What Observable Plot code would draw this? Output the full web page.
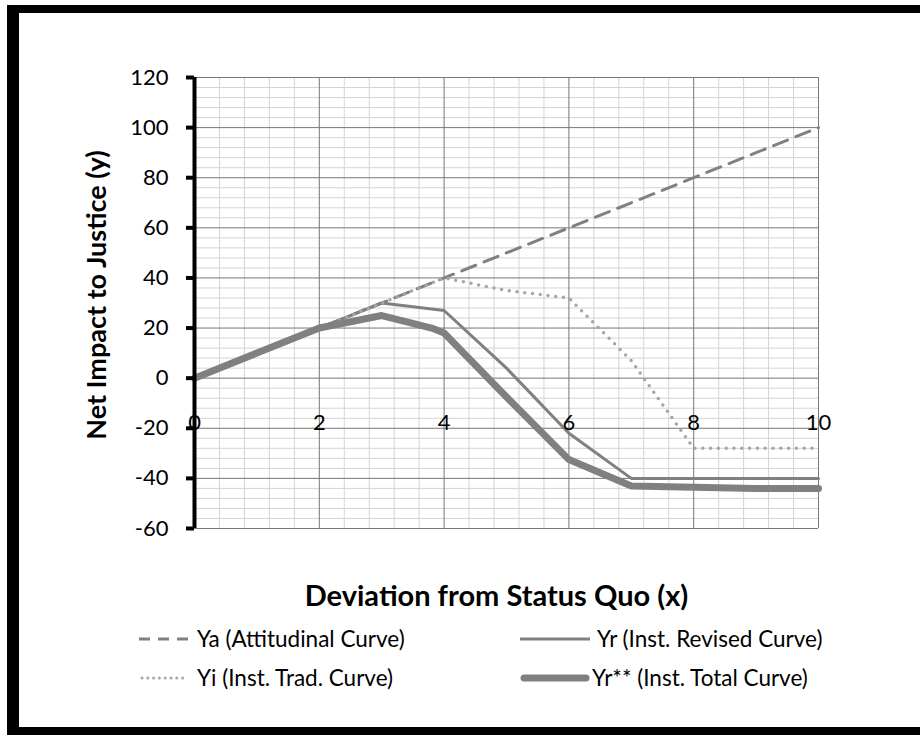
<!DOCTYPE html>
<html><head><meta charset="utf-8">
<script src="https://cdn.jsdelivr.net/npm/d3@7"></script>
<script src="https://cdn.jsdelivr.net/npm/@observablehq/plot@0.6"></script>
<style>
html,body{margin:0;padding:0;background:#fff;}
body{width:920px;height:735px;position:relative;overflow:hidden;font-family:Lato,"Open Sans",sans-serif;}
#frame{position:absolute;left:7px;top:5px;width:960px;height:714px;border-left:12px solid #000;border-top:8px solid #000;border-bottom:8px solid #000;pointer-events:none;z-index:5;}
#chart{position:absolute;left:0;top:0;}
.leg{position:absolute;font-size:22.5px;color:#000;white-space:nowrap;line-height:26px;transform:translateY(-50%);}
.sym{position:absolute;transform:translateY(-50%);}
</style></head><body>
<div id="frame"></div>
<div id="chart"></div>
<div id="legend"></div>
<script>
// ---- data ----
const xValues   = [0, 1, 2, 3, 4, 5, 6, 7, 8, 9, 10];
const yaValues  = [0, 10, 20, 30, 40, 50, 60, 70, 80, 90, 100];
const yiValues  = [0, 10, 20, 30, 40, 35, 32, 7, -28, -28, -28];
const yrValues  = [0, 10, 20, 30, 27, 4, -22, -40, -40, -40, -40];
const yrTotX    = [0, 1, 2, 3, 3.8, 4, 5, 6, 7, 8, 9, 10];
const yrTotVals = [0, 10, 20, 25, 20, 18, -7.5, -32.5, -43, -43.5, -44, -44];

const seriesNames = ["Ya (Attitudinal Curve)", "Yr (Inst. Revised Curve)", "Yi (Inst. Trad. Curve)", "Yr** (Inst. Total Curve)"];
const xTitle = "Deviation from Status Quo (x)";
const yTitle = "Net Impact to Justice (y)";

const xTicks = [0, 2, 4, 6, 8, 10];
const yTicks = [-60, -40, -20, 0, 20, 40, 60, 80, 100, 120];
const xMinor = [0.4, 0.8, 1.2, 1.6, 2.4, 2.8, 3.2, 3.6, 4.4, 4.8, 5.2, 5.6, 6.4, 6.8, 7.2, 7.6, 8.4, 8.8, 9.2, 9.6];
const yMinor = [-56, -52, -48, -44, -36, -32, -28, -24, -16, -12, -8, -4, 4, 8, 12, 16, 24, 28, 32, 36,
                44, 48, 52, 56, 64, 68, 72, 76, 84, 88, 92, 96, 104, 108, 112, 116];
const xLabelLevel = -20; // x tick labels sit on the -20 gridline in the reference

// ---- tables ----
const ya = xValues.map((x, i) => ({x, y: yaValues[i]}));
const yi = xValues.map((x, i) => ({x, y: yiValues[i]}));
const yr = xValues.map((x, i) => ({x, y: yrValues[i]}));
const yrTot = yrTotX.map((x, i) => ({x, y: yrTotVals[i]}));

const grey = "#808080";
const lightGrey = "#a6a6a6";

const chart = Plot.plot({
  width: 920,
  height: 735,
  marginLeft: 194,
  marginRight: 102,
  marginTop: 77,
  marginBottom: 207,
  x: {domain: [0, 10], axis: null},
  y: {domain: [-60, 120]},
  style: {fontFamily: "Lato, 'Open Sans', sans-serif", fontSize: "22px", background: "transparent", color: "#000"},
  marks: [
    Plot.ruleX(xMinor, {stroke: "#d4d4d4", strokeWidth: 1}),
    Plot.ruleY(yMinor, {stroke: "#d4d4d4", strokeWidth: 1}),
    Plot.ruleX(xTicks, {stroke: "#777", strokeWidth: 1}),
    Plot.ruleY(yTicks, {stroke: "#777", strokeWidth: 1}),
    Plot.line(ya, {x: "x", y: "y", stroke: grey, strokeWidth: 3, strokeDasharray: "15 9"}),
    Plot.line(yr, {x: "x", y: "y", stroke: grey, strokeWidth: 3}),
    Plot.line(yi, {x: "x", y: "y", stroke: lightGrey, strokeWidth: 3.5, strokeDasharray: "0 7.8", strokeLinecap: "round"}),
    Plot.line(yrTot, {x: "x", y: "y", stroke: grey, strokeWidth: 7, strokeLinejoin: "round", strokeLinecap: "round"}),
    Plot.ruleX([0], {stroke: "#000", strokeWidth: 4}),
    Plot.axisY({ticks: yTicks, tickSize: 8, tickPadding: 18, stroke: "#000", strokeWidth: 4, fontSize: 22, label: null, tickFormat: d => String(d)}),
    Plot.text(xTicks, {x: d => d, y: () => xLabelLevel, text: d => String(d), fontSize: 22, lineAnchor: "bottom", dy: 2}),
    Plot.text([xTitle], {frameAnchor: "bottom", lineAnchor: "middle", text: d => d, dy: 68, dx: -10, fontSize: 29, fontWeight: "bold"}),
    Plot.text([yTitle], {frameAnchor: "left", textAnchor: "middle", lineAnchor: "middle", text: d => d, rotate: -90, dx: -97, dy: -8, fontSize: 27, fontWeight: "bold"})
  ]
});
document.getElementById("chart").appendChild(chart);

// ---- legend (HTML, below the plot frame) ----
const legendStyles = [
  {stroke: grey, width: 3, dash: "11 8", cap: "butt"},
  {stroke: grey, width: 3, dash: null, cap: "butt"},
  {stroke: lightGrey, width: 3, dash: "0 5.8", cap: "round"},
  {stroke: grey, width: 7, dash: null, cap: "round"}
];
const legendPos = [
  {sx: 139, sw: 52, tx: 197, y: 639},
  {sx: 520, sw: 70, tx: 597, y: 639},
  {sx: 138, sw: 54, tx: 197, y: 678},
  {sx: 520, sw: 70, tx: 592, y: 678}
];
const legend = document.getElementById("legend");
seriesNames.forEach((name, i) => {
  const p = legendPos[i], s = legendStyles[i];
  const svg = `<svg class="sym" style="left:${p.sx}px;top:${p.y}px" width="${p.sw}" height="12">
    <line x1="${s.cap === "round" ? 4 : 0}" x2="${p.sw - (s.cap === "round" ? 4 : 0)}" y1="6" y2="6" stroke="${s.stroke}" stroke-width="${s.width}"
      ${s.dash ? `stroke-dasharray="${s.dash}"` : ""} stroke-linecap="${s.cap}"/></svg>`;
  legend.insertAdjacentHTML("beforeend", svg + `<div class="leg" style="left:${p.tx}px;top:${p.y}px">${name}</div>`);
});
</script>
</body></html>
